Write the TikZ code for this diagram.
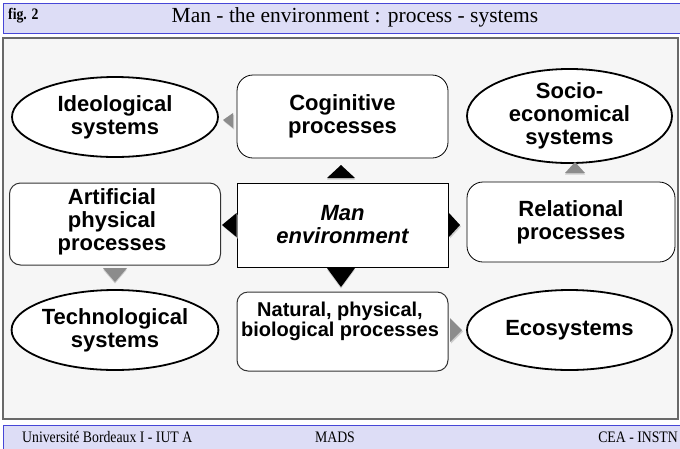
\documentclass[tikz,border=0pt]{standalone}
\usepackage{fontspec}
\setmainfont{Liberation Serif}
\newfontfamily\lsans{Liberation Sans}
\newfontfamily\narrowserif[FakeStretch=0.86]{Liberation Serif}
\usetikzlibrary{shapes.geometric}
\definecolor{hdrfill}{RGB}{221,221,246}
\definecolor{hdrline}{RGB}{70,70,215}
\definecolor{panelfill}{RGB}{246,246,246}
\definecolor{panelline}{RGB}{105,105,105}
\definecolor{trigray}{RGB}{140,140,140}
\definecolor{trishade}{RGB}{205,205,205}
\begin{document}
\begin{tikzpicture}[x=1pt,y=-1pt,
  lbl/.style={font=\lsans\bfseries\fontsize{22}{23}\selectfont, align=center, inner sep=0pt},
  ell/.style={ellipse, draw=black, line width=1.8pt, fill=white, minimum width=206pt, minimum height=80pt, lbl},
  rbox/.style={rectangle, rounded corners=16pt, draw=black, line width=0.8pt, fill=white, minimum width=211pt, minimum height=83pt, lbl},
  jbox/.style={rectangle, rounded corners=11pt, draw=black!80, line width=1pt, fill=white, minimum width=211pt, minimum height=82pt, lbl},
  cbox/.style={rectangle, draw=black, line width=0.8pt, fill=white, minimum width=211pt, minimum height=84pt, lbl},
  band/.style={draw=hdrline, line width=1pt, fill=hdrfill},
  foot/.style={font=\narrowserif\fontsize{16}{18}\selectfont, inner sep=0pt}
]
\useasboundingbox (0,0) rectangle (680,448);
% header
\draw[band] (3,3) rectangle (684,33);
\node[font=\narrowserif\bfseries\fontsize{16}{18}\selectfont, anchor=west, inner sep=0pt] (fig) at (8,16) {fig. 2};
\node[font=\fontsize{21.5}{23}\selectfont, inner sep=0pt] (title) at (355,17) {Man - the environment : process - systems};
% panel
\draw[draw=panelline, line width=1.4pt, fill=panelfill] (3,38) rectangle (678,419);
% footer
\draw[band] (3,425) rectangle (684,452);
\node[foot, anchor=west] (f1) at (22,437) {Université Bordeaux I - IUT A};
\node[foot] (f2) at (335,437) {MADS};
\node[foot, anchor=east] (f3) at (678,437) {CEA - INSTN};

% nodes
\node[ell] (ideo) at (115,117) {Ideological\\systems};
\node[rbox] (cog) at (342.5,116.5) {Coginitive\\processes};
\node[ell, minimum width=205pt, minimum height=82pt] (socio) at (569.5,116) {Socio-\\economical\\systems};
\node[jbox] (art) at (115,224) {};
\node[lbl] (artl) at (112,221.5) {Artificial\\physical\\processes};
\node[cbox] (man) at (342.5,225) {\itshape Man\\\itshape environment};
\node[rbox, minimum width=208pt, minimum height=80pt] (rel) at (571,222) {Relational\\processes};
\node[ell] (tech) at (115,330) {Technological\\systems};
\node[jbox, minimum height=79pt] (nat) at (342.5,331.5) {};
\node[lbl, font=\lsans\bfseries\fontsize{20}{18.5}\selectfont, anchor=north] (natl) at (340,302) {Natural, physical,\\biological processes};
\node[ell, minimum width=205pt] (eco) at (569.5,330) {Ecosystems};

% triangles (arrow marks)
% gray left, cog -> ideo
\fill[trishade] (224,121.5) -- (234,114.5) -- (234,129.5) -- cycle;
\fill[trigray] (223,120) -- (233,113) -- (233,128) -- cycle;
% black up, man -> cog
\fill[trishade] (327,179.5) -- (341,166.5) -- (355,179.5) -- cycle;
\fill[black] (327,178) -- (341,165) -- (355,178) -- cycle;
% gray up, rel -> socio
\fill[trishade] (565,174.5) -- (575,163.5) -- (585,174.5) -- cycle;
\fill[trigray] (565,173) -- (575,162) -- (585,173) -- cycle;
% black left, man -> art
\fill[trishade] (223,226.5) -- (237.5,214.5) -- (237.5,238.5) -- cycle;
\fill[black] (222,225) -- (236.5,213) -- (236.5,237) -- cycle;
% black right, man -> rel
\fill[trishade] (450,214.5) -- (461,226.5) -- (450,238.5) -- cycle;
\fill[black] (449,213) -- (460,225) -- (449,237) -- cycle;
% black down, man -> nat
\fill[trishade] (327,269.5) -- (355,269.5) -- (341,288.5) -- cycle;
\fill[black] (327,268) -- (355,268) -- (341,287) -- cycle;
% gray down, art -> tech
\fill[trishade] (103,269.5) -- (127,269.5) -- (115,283.5) -- cycle;
\fill[trigray] (103,268) -- (127,268) -- (115,282) -- cycle;
% gray right, nat -> eco
\fill[trishade] (451,319.5) -- (463,331.5) -- (451,343.5) -- cycle;
\fill[trigray] (450,318) -- (462,330) -- (450,342) -- cycle;
\end{tikzpicture}
\end{document}
